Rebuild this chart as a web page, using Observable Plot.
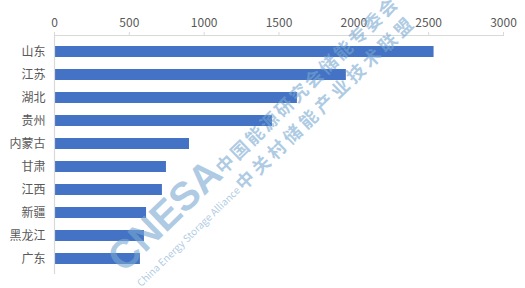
<!DOCTYPE html>
<html>
<head>
<meta charset="utf-8">
<script src="https://cdn.jsdelivr.net/npm/d3@7"></script>
<script src="https://cdn.jsdelivr.net/npm/@observablehq/plot@0.6"></script>
<style>
  html, body { margin: 0; padding: 0; background: #fff; }
  #wrap { position: relative; width: 525px; height: 288px; overflow: hidden; }
  .wm { position: absolute; white-space: nowrap; transform-origin: 0 100%; color: rgba(120,168,208,0.6); font-family: "Noto Sans CJK SC", sans-serif; pointer-events: none; line-height: 1; }
</style>
</head>
<body>
<div id="wrap"></div>
<script>
const provinces = ["山东", "江苏", "湖北", "贵州", "内蒙古", "甘肃", "江西", "新疆", "黑龙江", "广东"];
const values = [2536, 1950, 1623, 1456, 902, 748, 721, 615, 601, 574];
const xTicks = [0, 500, 1000, 1500, 2000, 2500, 3000];

const data = provinces.map((p, i) => ({ province: p, value: values[i] }));

const chart = Plot.plot({
  width: 525,
  height: 288,
  marginTop: 35,
  marginLeft: 54,
  marginRight: 22,
  marginBottom: 14,
  style: { fontFamily: "'Noto Sans CJK SC', 'Liberation Sans', sans-serif", fontSize: "12px", color: "#595959", background: "#fff" },
  x: { domain: [0, 3000], axis: null, label: null },
  y: { domain: provinces, paddingInner: 0.54, paddingOuter: 0.27, axis: null, label: null },
  marks: [
    Plot.barX(data, { x: "value", y: "province", fill: "#4472C4" }),
    Plot.ruleX([0], { stroke: "#D9D9D9", strokeWidth: 1.2 }),
    Plot.frame({ anchor: "top", stroke: "#D9D9D9", strokeWidth: 1.2 }),
    Plot.axisX(xTicks, { anchor: "top", label: null, tickSize: 4, tickPadding: 5, stroke: "#D9D9D9", fill: "#595959", fontSize: 12, tickFormat: d => String(d) }),
    Plot.axisY({ anchor: "left", label: null, tickSize: 0, tickPadding: 9, fill: "#595959", fontSize: 12 })
  ]
});

const wrap = document.getElementById("wrap");
wrap.appendChild(chart);

// Watermark overlay (logo text)
const wms = [
  { text: "中国能源研究会储能专委会", left: 224, top: 158, size: 18, rot: -44, weight: 700, spacing: 2.5 },
  { text: "中关村储能产业技术联盟", left: 244, top: 174, size: 18, rot: -44, weight: 700, spacing: 4 },
  { text: "CNESA", left: 128, top: 238, size: 40, rot: -44, weight: 700, spacing: 0 },
  { text: "China Energy Storage Alliance", left: 142, top: 278, size: 10, rot: -44, weight: 400, spacing: 0 }
];
wms.forEach(w => {
  const d = document.createElement("div");
  d.className = "wm";
  d.textContent = w.text;
  d.style.left = w.left + "px";
  d.style.top = w.top + "px";
  d.style.fontSize = w.size + "px";
  d.style.fontWeight = w.weight;
  d.style.letterSpacing = w.spacing + "px";
  d.style.transform = `rotate(${w.rot}deg)`;
  if (w.text === "CNESA") d.style.fontFamily = "'Liberation Sans', sans-serif";
  wrap.appendChild(d);
});
</script>
</body>
</html>
